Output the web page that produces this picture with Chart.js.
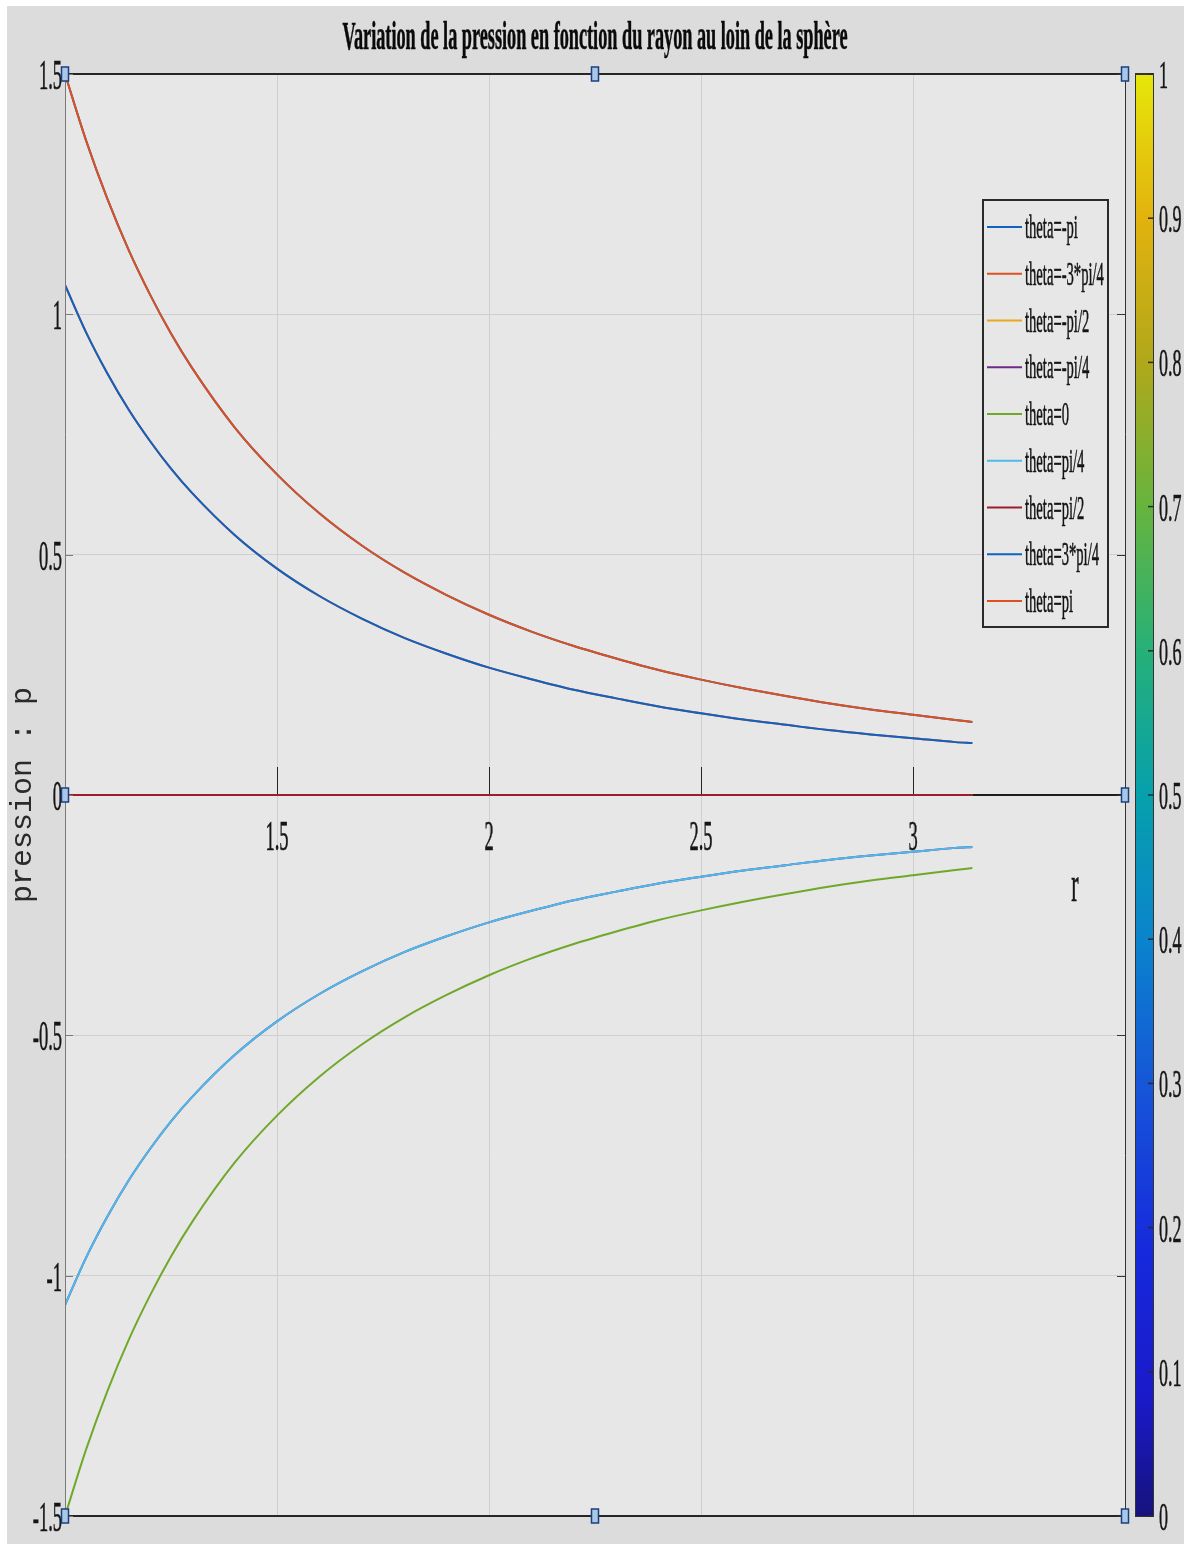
<!DOCTYPE html>
<html>
<head>
<meta charset="utf-8">
<title>Variation de la pression en fonction du rayon</title>
<script src="https://cdn.jsdelivr.net/npm/chart.js@4/dist/chart.umd.min.js"></script>
<style>
  html, body { margin: 0; padding: 0; background: #ffffff; }
  canvas { display: block; }
</style>
</head>
<body>
<canvas id="c" width="1184" height="1544"></canvas>
<script>
// Rayon r (de 1 à pi)
const radius = [1.0, 1.05, 1.1, 1.15, 1.2, 1.25, 1.3, 1.4, 1.5, 1.6, 1.7, 1.8, 1.9, 2.0, 2.1, 2.2, 2.3, 2.4, 2.5, 2.6, 2.7, 2.8, 2.9, 3.0, 3.1, 3.14];

// Pression p pour chaque angle theta
const thetaMinusPi     = [1.500, 1.361, 1.240, 1.134, 1.042, 0.960, 0.888, 0.765, 0.667, 0.586, 0.519, 0.463, 0.416, 0.375, 0.340, 0.310, 0.284, 0.260, 0.240, 0.222, 0.206, 0.191, 0.178, 0.167, 0.156, 0.152];
const thetaMinus3Pi4   = [1.061, 0.962, 0.877, 0.802, 0.737, 0.679, 0.628, 0.541, 0.471, 0.414, 0.367, 0.327, 0.294, 0.265, 0.241, 0.219, 0.201, 0.184, 0.170, 0.157, 0.146, 0.135, 0.126, 0.118, 0.110, 0.108];
const thetaMinusPi2    = [0, 0, 0, 0, 0, 0, 0, 0, 0, 0, 0, 0, 0, 0, 0, 0, 0, 0, 0, 0, 0, 0, 0, 0, 0, 0];
const thetaMinusPi4    = [-1.061, -0.962, -0.877, -0.802, -0.737, -0.679, -0.628, -0.541, -0.471, -0.414, -0.367, -0.327, -0.294, -0.265, -0.241, -0.219, -0.201, -0.184, -0.170, -0.157, -0.146, -0.135, -0.126, -0.118, -0.110, -0.108];
const thetaZero        = [-1.500, -1.361, -1.240, -1.134, -1.042, -0.960, -0.888, -0.765, -0.667, -0.586, -0.519, -0.463, -0.416, -0.375, -0.340, -0.310, -0.284, -0.260, -0.240, -0.222, -0.206, -0.191, -0.178, -0.167, -0.156, -0.152];
const thetaPi4         = [-1.061, -0.962, -0.877, -0.802, -0.737, -0.679, -0.628, -0.541, -0.471, -0.414, -0.367, -0.327, -0.294, -0.265, -0.241, -0.219, -0.201, -0.184, -0.170, -0.157, -0.146, -0.135, -0.126, -0.118, -0.110, -0.108];
const thetaPi2         = [0, 0, 0, 0, 0, 0, 0, 0, 0, 0, 0, 0, 0, 0, 0, 0, 0, 0, 0, 0, 0, 0, 0, 0, 0, 0];
const theta3Pi4        = [1.061, 0.962, 0.877, 0.802, 0.737, 0.679, 0.628, 0.541, 0.471, 0.414, 0.367, 0.327, 0.294, 0.265, 0.241, 0.219, 0.201, 0.184, 0.170, 0.157, 0.146, 0.135, 0.126, 0.118, 0.110, 0.108];
const thetaPi          = [1.500, 1.361, 1.240, 1.134, 1.042, 0.960, 0.888, 0.765, 0.667, 0.586, 0.519, 0.463, 0.416, 0.375, 0.340, 0.310, 0.284, 0.260, 0.240, 0.222, 0.206, 0.191, 0.178, 0.167, 0.156, 0.152];

const seriesLabels = ['theta=-pi', 'theta=-3*pi/4', 'theta=-pi/2', 'theta=-pi/4', 'theta=0', 'theta=pi/4', 'theta=pi/2', 'theta=3*pi/4', 'theta=pi'];
const seriesValues = [thetaMinusPi, thetaMinus3Pi4, thetaMinusPi2, thetaMinusPi4, thetaZero, thetaPi4, thetaPi2, theta3Pi4, thetaPi];
const seriesColors = ['#0f62c2', '#dd5020', '#e8aa1c', '#6e2a86', '#6fa82a', '#4cbbec', '#9c1c30', '#0f62c2', '#dd5020'];

// Graduations
const xTicks = [1.5, 2, 2.5, 3];
const xTickLabels = ['1.5', '2', '2.5', '3'];
const yTicks = [-1.5, -1, -0.5, 0, 0.5, 1, 1.5];
const yTickLabels = ['-1.5', '-1', '-0.5', '0', '0.5', '1', '1.5'];
const colorbarTicks = [0, 0.1, 0.2, 0.3, 0.4, 0.5, 0.6, 0.7, 0.8, 0.9, 1];
const colorbarLabels = ['0', '0.1', '0.2', '0.3', '0.4', '0.5', '0.6', '0.7', '0.8', '0.9', '1'];

const titleText = 'Variation de la pression en fonction du rayon au loin de la sphère';
const xLabelText = 'r';
const yLabelText = 'pression : p';

// Palette de la barre de couleur
const colorbarStops = [
  [0.00, '#16127c'], [0.08, '#1a1ac8'], [0.18, '#1628dc'], [0.30, '#1656d8'],
  [0.40, '#0a84cc'], [0.50, '#06a0ac'], [0.60, '#26b078'], [0.70, '#66b43e'],
  [0.80, '#b0a81a'], [0.90, '#e2b20e'], [1.00, '#e6e60a']
];

const SERIF = '"Liberation Serif", "Times New Roman", serif';
const SX = 0.44; // compression horizontale du texte

function condensedText(ctx, str, x, y, font, align, sx, color) {
  ctx.save();
  ctx.font = font;
  ctx.fillStyle = color || '#161616';
  ctx.strokeStyle = color || '#161616';
  ctx.lineWidth = 0.6;
  ctx.textBaseline = 'alphabetic';
  ctx.textAlign = align;
  ctx.translate(x, y);
  ctx.scale(sx, 1);
  ctx.fillText(str, 0, 0);
  ctx.strokeText(str, 0, 0);
  ctx.restore();
}

function handle(ctx, x, y) {
  ctx.save();
  ctx.fillStyle = '#a9c8e8';
  ctx.strokeStyle = '#1b3f7c';
  ctx.lineWidth = 1.5;
  ctx.fillRect(x - 3.5, y - 7, 7, 14);
  ctx.strokeRect(x - 3.5, y - 7, 7, 14);
  ctx.restore();
}

const backgroundPlugin = {
  id: 'figureBackground',
  beforeDraw(chart) {
    const { ctx, chartArea: a, width, height } = chart;
    ctx.save();
    ctx.fillStyle = '#ffffff';
    ctx.fillRect(0, 0, width, height);
    ctx.fillStyle = '#dcdcdc';
    ctx.fillRect(7, 6, width - 7, height - 6);
    ctx.fillStyle = '#e7e7e7';
    ctx.fillRect(a.left, a.top, a.right - a.left, a.bottom - a.top);
    ctx.restore();
  },
  beforeDatasetsDraw(chart) {
    // axe des abscisses passant par l'origine
    const { ctx, chartArea: a, scales: { x, y } } = chart;
    const y0 = y.getPixelForValue(0);
    ctx.save();
    ctx.strokeStyle = '#1e1e1e';
    ctx.lineWidth = 2;
    ctx.beginPath();
    ctx.moveTo(a.left, y0);
    ctx.lineTo(a.right, y0);
    ctx.stroke();
    ctx.lineWidth = 1;
    ctx.strokeStyle = '#262626';
    xTicks.forEach(v => {
      const px = Math.round(x.getPixelForValue(v)) + 0.5;
      ctx.beginPath();
      ctx.moveTo(px, y0);
      ctx.lineTo(px, y0 - 28);
      ctx.stroke();
    });
    ctx.restore();
  }
};

const decorPlugin = {
  id: 'figureDecor',
  afterDraw(chart) {
    const { ctx, chartArea: a, scales: { x, y } } = chart;
    const y0 = y.getPixelForValue(0);
    const xm = (a.left + a.right) / 2;

    ctx.save();
    // cadre des axes
    ctx.strokeStyle = '#262626';
    ctx.lineWidth = 2;
    ctx.beginPath();
    ctx.moveTo(a.left, a.top); ctx.lineTo(a.right, a.top);
    ctx.moveTo(a.left, a.bottom); ctx.lineTo(a.right, a.bottom);
    ctx.stroke();
    ctx.lineWidth = 1;
    ctx.strokeStyle = '#7a7a7a';
    ctx.beginPath();
    ctx.moveTo(a.left + 0.5, a.top); ctx.lineTo(a.left + 0.5, a.bottom);
    ctx.stroke();
    ctx.strokeStyle = '#333333';
    ctx.beginPath();
    ctx.moveTo(a.right + 0.5, a.top); ctx.lineTo(a.right + 0.5, a.bottom);
    ctx.stroke();
    // graduations de l'axe des ordonnées
    yTicks.forEach(v => {
      const py = Math.round(y.getPixelForValue(v)) + 0.5;
      ctx.strokeStyle = '#333333';
      ctx.beginPath(); ctx.moveTo(a.right, py); ctx.lineTo(a.right - 8, py); ctx.stroke();
      ctx.strokeStyle = '#7a7a7a';
      ctx.beginPath(); ctx.moveTo(a.left, py); ctx.lineTo(a.left + 8, py); ctx.stroke();
    });
    ctx.restore();

    // légende
    const lx = a.right - 142, ly = 200, lw = 125, lh = 427;
    ctx.save();
    ctx.fillStyle = '#e7e7e7';
    ctx.fillRect(lx, ly, lw, lh);
    ctx.strokeStyle = '#2a2a2a';
    ctx.lineWidth = 2;
    ctx.strokeRect(lx, ly, lw, lh);
    chart.data.datasets.forEach((ds, i) => {
      const rowY = 227 + i * 46.75;
      ctx.strokeStyle = ds.borderColor;
      ctx.lineWidth = 2;
      ctx.beginPath();
      ctx.moveTo(lx + 4, rowY);
      ctx.lineTo(lx + 39, rowY);
      ctx.stroke();
      condensedText(ctx, ds.label, lx + 42, rowY + 11, '34px ' + SERIF, 'left', 0.43, '#141414');
    });
    ctx.restore();

    // étiquettes des graduations
    xTicks.forEach((v, i) => {
      condensedText(ctx, xTickLabels[i], x.getPixelForValue(v), y0 + 55, '42px ' + SERIF, 'center', SX);
    });
    yTicks.forEach((v, i) => {
      condensedText(ctx, yTickLabels[i], a.left - 3, y.getPixelForValue(v) + 15, '42px ' + SERIF, 'right', SX);
    });

    // barre de couleur
    const cbL = a.right + 10, cbW = 18;
    const grad = ctx.createLinearGradient(0, a.bottom, 0, a.top);
    colorbarStops.forEach(s => grad.addColorStop(s[0], s[1]));
    ctx.save();
    ctx.fillStyle = grad;
    ctx.fillRect(cbL, a.top, cbW, a.bottom - a.top);
    ctx.strokeStyle = '#333333';
    ctx.lineWidth = 1;
    ctx.strokeRect(cbL + 0.5, a.top + 0.5, cbW, a.bottom - a.top);
    ctx.lineWidth = 2;
    ctx.beginPath(); ctx.moveTo(cbL, a.top); ctx.lineTo(cbL + cbW + 1, a.top); ctx.stroke();
    const cbH = a.bottom - a.top;
    colorbarTicks.forEach((v, i) => {
      const py = a.bottom - v * cbH;
      ctx.strokeStyle = '#2a2a2a';
      ctx.lineWidth = 1.5;
      ctx.beginPath(); ctx.moveTo(cbL + cbW - 5, py); ctx.lineTo(cbL + cbW, py); ctx.stroke();
      condensedText(ctx, colorbarLabels[i], cbL + cbW + 6, py + 14, '41px ' + SERIF, 'left', SX);
    });
    ctx.restore();

    // titre
    ctx.save();
    ctx.font = 'bold 40px ' + SERIF;
    const tw = ctx.measureText(titleText).width;
    ctx.restore();
    condensedText(ctx, titleText, xm, 49, 'bold 40px ' + SERIF, 'center', 505 / tw, '#0a0a0a');

    // titres des axes
    condensedText(ctx, xLabelText, a.right - 50, 901, '50px ' + SERIF, 'center', SX);
    ctx.save();
    ctx.translate(31, y0);
    ctx.rotate(-Math.PI / 2);
    ctx.font = '30px "Liberation Mono", "Courier New", monospace';
    ctx.fillStyle = '#2a2a2a';
    ctx.textAlign = 'center';
    ctx.textBaseline = 'alphabetic';
    ctx.fillText(yLabelText, 0, 0);
    ctx.restore();

    // poignées de sélection
    [[a.left, a.top], [xm, a.top], [a.right, a.top], [a.left, y0], [a.right, y0],
     [a.left, a.bottom], [xm, a.bottom], [a.right, a.bottom]].forEach(p => handle(ctx, p[0], p[1]));
  }
};

const datasets = seriesLabels.map((label, i) => ({
  label: label,
  data: radius.map((r, k) => ({ x: r, y: seriesValues[i][k] })),
  borderColor: seriesColors[i],
  backgroundColor: seriesColors[i],
  borderWidth: 2,
  pointRadius: 0,
  fill: false,
  cubicInterpolationMode: 'monotone',
  order: seriesLabels.length - i
}));

new Chart(document.getElementById('c'), {
  type: 'line',
  data: { datasets: datasets },
  options: {
    responsive: false,
    devicePixelRatio: 1,
    animation: false,
    layout: { padding: { left: 65, top: 74, right: 59, bottom: 28 } },
    plugins: { legend: { display: false }, tooltip: { enabled: false }, title: { display: false } },
    scales: {
      x: {
        type: 'linear', min: 1, max: 3.5,
        ticks: { display: false, stepSize: 0.5 },
        grid: { color: '#cfcfcf', lineWidth: 1, drawTicks: false },
        border: { display: false },
        afterFit: s => { s.height = 0; s.paddingLeft = 0; s.paddingRight = 0; }
      },
      y: {
        type: 'linear', min: -1.5, max: 1.5,
        ticks: { display: false, stepSize: 0.5 },
        grid: { color: '#cfcfcf', lineWidth: 1, drawTicks: false },
        border: { display: false },
        afterFit: s => { s.width = 0; s.paddingTop = 0; s.paddingBottom = 0; }
      }
    }
  },
  plugins: [backgroundPlugin, decorPlugin]
});
</script>
</body>
</html>
